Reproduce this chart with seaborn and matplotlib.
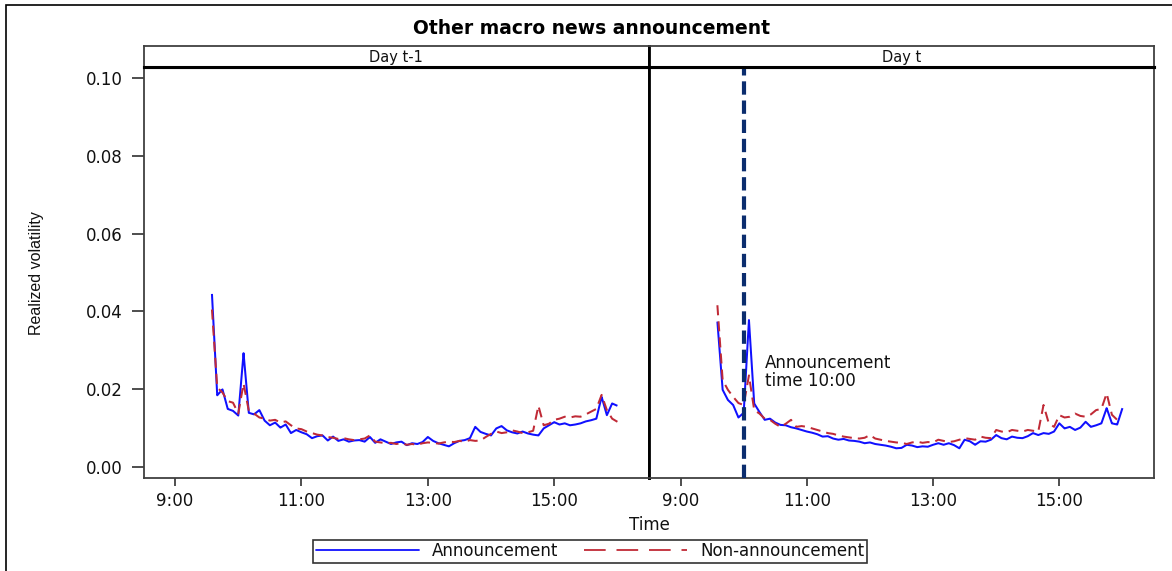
import numpy as np
import pandas as pd
import matplotlib
matplotlib.use("Agg")
import matplotlib.pyplot as plt
import seaborn as sns
from matplotlib.lines import Line2D
from matplotlib.patches import Rectangle

# ---------------- data ----------------
TITLE = "Other macro news announcement"
PANELS = ["Day t-1", "Day t"]
SERIES = ["Announcement", "Non-announcement"]
X_LABEL = "Time"
Y_LABEL = "Realized volatility"
NOTE = "Announcement\ntime 10:00"
ANN_HOUR = 10.0

# 5-minute intervals 9:35 ... 16:00
TIMES = pd.date_range("2000-01-01 09:35", "2000-01-01 16:00", freq="5min")

DAY_PREV_ANN = [
    0.0445, 0.0185, 0.0200, 0.0150, 0.0145,                                                    # 9:35-9:55
    0.0133, 0.0293, 0.0140, 0.0136, 0.0147, 0.0120, 0.0108, 0.0115, 0.0102, 0.0110, 0.0088, 0.0096,  # 10
    0.0090, 0.0085, 0.0075, 0.0080, 0.0082, 0.0069, 0.0079, 0.0068, 0.0072, 0.0066, 0.0069, 0.0070,  # 11
    0.0066, 0.0078, 0.0063, 0.0072, 0.0066, 0.0060, 0.0064, 0.0066, 0.0057, 0.0062, 0.0060, 0.0065,  # 12
    0.0078, 0.0068, 0.0062, 0.0058, 0.0054, 0.0062, 0.0068, 0.0070, 0.0075, 0.0104, 0.0091, 0.0086,  # 13
    0.0082, 0.0100, 0.0106, 0.0095, 0.0090, 0.0087, 0.0092, 0.0087, 0.0084, 0.0082, 0.0100, 0.0108,  # 14
    0.0116, 0.0110, 0.0113, 0.0108, 0.0110, 0.0113, 0.0118, 0.0121, 0.0125, 0.0181, 0.0134, 0.0164,  # 15
    0.0158,                                                                                        # 16:00
]
DAY_PREV_NON = [
    0.0405, 0.0205, 0.0192, 0.0170, 0.0166,
    0.0138, 0.0215, 0.0145, 0.0138, 0.0128, 0.0125, 0.0120, 0.0122, 0.0115, 0.0118, 0.0108, 0.0100,
    0.0098, 0.0092, 0.0088, 0.0084, 0.0082, 0.0078, 0.0076, 0.0073, 0.0075, 0.0072, 0.0070, 0.0072,
    0.0074, 0.0082, 0.0066, 0.0064, 0.0062, 0.0063, 0.0060, 0.0062, 0.0058, 0.0060, 0.0058, 0.0062,
    0.0064, 0.0063, 0.0061, 0.0064, 0.0066, 0.0065, 0.0068, 0.0066, 0.0070, 0.0068, 0.0069, 0.0078,
    0.0086, 0.0092, 0.0088, 0.0090, 0.0095, 0.0092, 0.0088, 0.0090, 0.0094, 0.0158, 0.0108, 0.0112,
    0.0122, 0.0125, 0.0130, 0.0128, 0.0131, 0.0130, 0.0136, 0.0143, 0.0150, 0.0186, 0.0147, 0.0125,
    0.0117,
]
DAY_T_ANN = [
    0.0374, 0.0199, 0.0173, 0.0160, 0.0128,
    0.0140, 0.0378, 0.0164, 0.0142, 0.0122, 0.0125, 0.0115, 0.0109, 0.0108, 0.0103, 0.0100, 0.0096,
    0.0092, 0.0089, 0.0085, 0.0079, 0.0080, 0.0074, 0.0071, 0.0073, 0.0069, 0.0068, 0.0066, 0.0062,
    0.0064, 0.0060, 0.0058, 0.0056, 0.0053, 0.0049, 0.0050, 0.0058, 0.0056, 0.0052, 0.0054, 0.0053,
    0.0058, 0.0062, 0.0058, 0.0062, 0.0057, 0.0049, 0.0071, 0.0067, 0.0058, 0.0067, 0.0066, 0.0071,
    0.0083, 0.0075, 0.0072, 0.0079, 0.0076, 0.0075, 0.0080, 0.0088, 0.0083, 0.0088, 0.0086, 0.0092,
    0.0113, 0.0100, 0.0104, 0.0096, 0.0102, 0.0117, 0.0104, 0.0108, 0.0113, 0.0152, 0.0113, 0.0110,
    0.0152,
]
DAY_T_NON = [
    0.0416, 0.0224, 0.0199, 0.0181, 0.0165,
    0.0160, 0.0236, 0.0147, 0.0138, 0.0125, 0.0122, 0.0112, 0.0104, 0.0112, 0.0122, 0.0104, 0.0106,
    0.0104, 0.0100, 0.0096, 0.0092, 0.0088, 0.0086, 0.0082, 0.0079, 0.0077, 0.0075, 0.0074, 0.0076,
    0.0083, 0.0074, 0.0071, 0.0068, 0.0066, 0.0064, 0.0063, 0.0060, 0.0064, 0.0066, 0.0063, 0.0065,
    0.0064, 0.0071, 0.0068, 0.0065, 0.0067, 0.0071, 0.0075, 0.0073, 0.0071, 0.0079, 0.0076, 0.0075,
    0.0096, 0.0092, 0.0090, 0.0096, 0.0094, 0.0092, 0.0096, 0.0094, 0.0092, 0.0160, 0.0113, 0.0104,
    0.0134, 0.0128, 0.0130, 0.0138, 0.0132, 0.0130, 0.0136, 0.0147, 0.0150, 0.0190, 0.0135, 0.0122,
    0.0122,
]

X_TICKS = [9, 11, 13, 15]
X_TICK_LABELS = ["9:00", "11:00", "13:00", "15:00"]
Y_TICKS = [0.00, 0.02, 0.04, 0.06, 0.08, 0.10]

# ---------------- table ----------------
hours = TIMES.hour + TIMES.minute / 60.0
frames = []
for panel, ann, non in [(PANELS[0], DAY_PREV_ANN, DAY_PREV_NON),
                        (PANELS[1], DAY_T_ANN, DAY_T_NON)]:
    frames.append(pd.DataFrame({"Day": panel, "Hour": hours, "RV": ann, "Series": SERIES[0]}))
    frames.append(pd.DataFrame({"Day": panel, "Hour": hours, "RV": non, "Series": SERIES[1]}))
df = pd.concat(frames, ignore_index=True)

# ---------------- style ----------------
sns.set_theme(style="white")
plt.rcParams["font.family"] = ["DejaVu Sans"]

BLUE = "#1010ff"
RED = "#c02a36"
NAVY = "#0b2d6e"
SPINE = "#404040"
FS = 12

W, H = 1172, 571
fig = plt.figure(figsize=(W / 100, H / 100), dpi=100)
fig.patch.set_facecolor("white")

def fx(px):
    return px / W

def fy(py):
    return 1 - py / H

AX_TOP, AX_BOT = 66.7, 478.3
STRIP_TOP = 46.0
X_EDGES = [(143.5, 649.0), (649.0, 1154.0)]

axes = []
for i, (x0, x1) in enumerate(X_EDGES):
    ax = fig.add_axes([fx(x0), fy(AX_BOT), fx(x1) - fx(x0), fy(AX_TOP) - fy(AX_BOT)])
    axes.append(ax)
    sub = df[df["Day"] == PANELS[i]]
    sns.lineplot(data=sub, x="Hour", y="RV", hue="Series", style="Series",
                 hue_order=SERIES, style_order=SERIES,
                 palette={SERIES[0]: BLUE, SERIES[1]: RED},
                 dashes={SERIES[0]: (1, 0), SERIES[1]: (5, 3)},
                 estimator=None, linewidth=1.45, legend=False, ax=ax)
    ax.set_xlim(8.5, 16.5)
    ax.set_ylim(-0.0028, 0.1028)
    ax.set_xticks(X_TICKS)
    ax.set_xticklabels(X_TICK_LABELS)
    ax.set_yticks(Y_TICKS)
    ax.set_yticklabels([f"{v:.2f}" for v in Y_TICKS])
    ax.set_xlabel("")
    ax.set_ylabel("")
    ax.tick_params(axis="x", direction="out", length=6, width=1.3, color=SPINE,
                   labelsize=FS, pad=4, labelcolor="#111111", bottom=True)
    ax.tick_params(axis="y", direction="out", length=9, width=1.3, color=SPINE,
                   labelsize=FS, pad=6, labelcolor="#111111", left=True)
    for s in ax.spines.values():
        s.set_visible(True)
        s.set_color(SPINE)
        s.set_linewidth(1.3)
    ax.spines["top"].set_color("black")
    ax.spines["top"].set_linewidth(2.2)
    if i == 1:
        ax.tick_params(axis="y", left=False, labelleft=False)
        ax.spines["left"].set_color("black")
        ax.spines["left"].set_linewidth(2.0)
    else:
        ax.spines["right"].set_color("black")
        ax.spines["right"].set_linewidth(2.0)

    # strip
    st = fig.add_axes([fx(x0), fy(AX_TOP), fx(x1) - fx(x0), fy(STRIP_TOP) - fy(AX_TOP)])
    st.set_xticks([])
    st.set_yticks([])
    st.set_facecolor("white")
    for s in st.spines.values():
        s.set_visible(True)
        s.set_color(SPINE)
        s.set_linewidth(1.3)
    st.spines["bottom"].set_color("black")
    st.spines["bottom"].set_linewidth(2.2)
    if i == 1:
        st.spines["left"].set_color("black")
        st.spines["left"].set_linewidth(2.0)
    else:
        st.spines["right"].set_color("black")
        st.spines["right"].set_linewidth(2.0)
    st.text(0.5, 0.45, PANELS[i], ha="center", va="center", fontsize=10.5,
            color="#111111", transform=st.transAxes)

# announcement marker on Day t
axes[1].axvline(ANN_HOUR, color=NAVY, lw=3.0, linestyle=(0, (3.2, 1.4)), zorder=5)
axes[1].text(10.33, 0.0246, NOTE, ha="left", va="center", fontsize=FS,
             linespacing=1.0, color="#111111")

# figure texts
fig.text(591.5 / W, fy(28), TITLE, ha="center", va="center", fontsize=13.5,
         fontweight="bold", color="black")
fig.text(fx(649), fy(525), X_LABEL, ha="center", va="center", fontsize=FS, color="#111111")
fig.text(fx(36.7), fy(273), Y_LABEL, ha="center", va="center", rotation=90, fontsize=11.5,
         family=["Liberation Sans", "DejaVu Sans"], color="#111111")

# legend
handles = [Line2D([], [], color=BLUE, lw=1.3),
           Line2D([], [], color=RED, lw=1.3, linestyle=(0, (12, 6)))]
leg = fig.legend(handles, SERIES, loc="center", bbox_to_anchor=(590 / W, fy(551)),
                 ncol=2, frameon=True, fancybox=False, edgecolor="black",
                 fontsize=FS, handlelength=6.2, handletextpad=0.8, columnspacing=1.5,
                 borderpad=0.15, borderaxespad=0)
leg.get_frame().set_linewidth(1.2)
for t in leg.get_texts():
    t.set_color("#111111")

# outer border (left and top visible)
fig.patches.append(Rectangle((fx(6), -0.5), 2.0, fy(5) + 0.5, transform=fig.transFigure,
                             fill=False, edgecolor="black", lw=1.2))

fig.savefig("out.png", dpi=100)
